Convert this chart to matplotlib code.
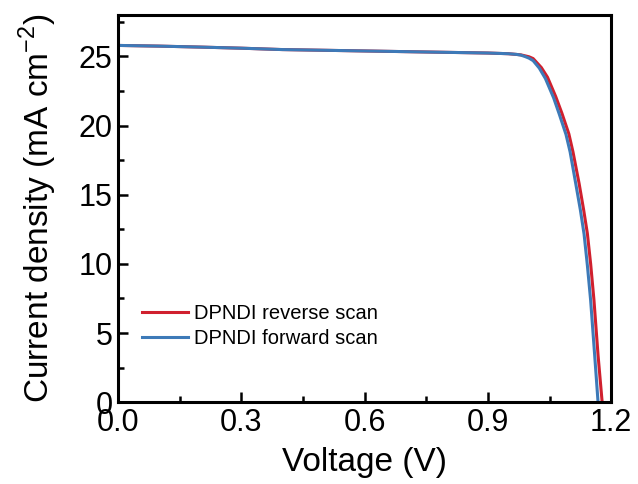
import numpy as np
import matplotlib.pyplot as plt
from matplotlib.ticker import MultipleLocator

plt.rcParams['font.family'] = ['Liberation Sans', 'DejaVu Sans']
plt.rcParams['mathtext.fontset'] = 'custom'
plt.rcParams['mathtext.rm'] = 'Liberation Sans'

# J-V data (V in volts, J in mA cm^-2)
v_rev = [0.0, 0.1, 0.2, 0.3, 0.4, 0.5, 0.6, 0.7, 0.8, 0.9, 0.95, 0.98, 1.0, 1.01,
         1.03, 1.045, 1.055, 1.065, 1.08, 1.097, 1.107, 1.122, 1.133, 1.142, 1.15,
         1.158, 1.168, 1.178]
j_rev = [25.8, 25.75, 25.68, 25.6, 25.5, 25.45, 25.4, 25.35, 25.3, 25.25, 25.2, 25.12, 24.98, 24.85,
         24.2, 23.5, 22.8, 22.1, 20.9, 19.4, 18.1, 15.8, 13.9, 12.2, 10.0,
         7.4, 3.4, 0.0]

v_fwd = [0.0, 0.1, 0.2, 0.3, 0.4, 0.5, 0.6, 0.7, 0.8, 0.9, 0.95, 0.97, 0.98, 0.99, 1.0,
         1.01, 1.025, 1.04, 1.05, 1.06, 1.074, 1.09, 1.10, 1.114, 1.125, 1.134, 1.142,
         1.15, 1.16, 1.168]
j_fwd = [25.8, 25.75, 25.68, 25.6, 25.5, 25.45, 25.4, 25.35, 25.3, 25.25, 25.2, 25.15, 25.1, 25.0, 24.88,
         24.7, 24.16, 23.4, 22.7, 22.0, 20.8, 19.36, 18.1, 15.76, 13.9, 12.15, 9.9,
         7.35, 3.3, 0.0]

fig = plt.figure(figsize=(6.38, 4.84), dpi=100)
ax = fig.add_axes([0.185, 0.169, 0.773, 0.8])

ax.plot(v_rev, j_rev, color='#d0202e', lw=2.2, label='DPNDI reverse scan')
ax.plot(v_fwd, j_fwd, color='#3d7ab8', lw=2.2, label='DPNDI forward scan')

ax.set_xlim(0, 1.2)
ax.set_ylim(0, 28)
ax.xaxis.set_major_locator(MultipleLocator(0.3))
ax.xaxis.set_minor_locator(MultipleLocator(0.15))
ax.yaxis.set_major_locator(MultipleLocator(5))
ax.yaxis.set_minor_locator(MultipleLocator(2.5))
ax.xaxis.set_major_formatter(plt.FormatStrFormatter('%.1f'))
ax.tick_params(which='both', direction='in', width=1.8, labelsize=22, pad=4)
ax.tick_params(which='major', length=7)
ax.tick_params(which='minor', length=4)
for s in ax.spines.values():
    s.set_linewidth(2.2)

ax.set_xlabel('Voltage (V)', fontsize=24, labelpad=7)
ax.set_ylabel(r'Current density (mA cm$^{\mathregular{-2}}$)', fontsize=24, labelpad=14)

ax.legend(loc='lower left', bbox_to_anchor=(0.012, 0.094), frameon=False, fontsize=14.5,
          handlelength=2.3, handletextpad=0.3, labelspacing=0.3)

fig.savefig('out.png', dpi=100)
